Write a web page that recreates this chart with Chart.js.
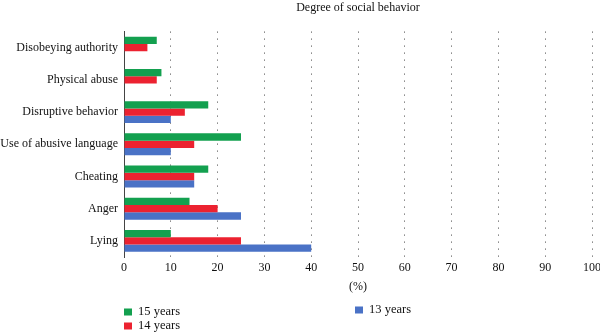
<!DOCTYPE html>
<html>
<head>
<meta charset="utf-8">
<script src="https://cdn.jsdelivr.net/npm/chart.js@4/dist/chart.umd.min.js"></script>
<style>
  html, body { margin: 0; padding: 0; background: #fff; }
  #wrap { width: 600px; height: 334px; }
</style>
</head>
<body>
<div id="wrap"><canvas id="c" width="600" height="334"></canvas></div>
<script>
const categories = ["Disobeying authority", "Physical abuse", "Disruptive behavior", "Use of abusive language", "Cheating", "Anger", "Lying"];
const years15 = [7, 8, 18, 25, 18, 14, 10];
const years14 = [5, 7, 13, 15, 15, 20, 25];
const years13 = [null, null, 10, 10, 15, 25, 40];
const seriesNames = ["15 years", "14 years", "13 years"];
const xTicks = [0, 10, 20, 30, 40, 50, 60, 70, 80, 90, 100];
const chartTitle = "Degree of social behavior";
const xTitle = "(%)";

const FONT = "'Liberation Serif', 'Times New Roman', serif";
const colors = ["#13a04f", "#ec2230", "#4a72c6"];

const titlePlugin = {
  id: 'topTitle',
  afterDraw(chart) {
    const ctx = chart.ctx;
    const a = chart.chartArea;
    ctx.save();
    ctx.font = "12px " + FONT;
    ctx.fillStyle = "#111";
    ctx.textAlign = "center";
    ctx.textBaseline = "middle";
    ctx.fillText(chartTitle, (a.left + a.right) / 2, 8);
    ctx.restore();
  }
};

const legendPlugin = {
  id: 'customLegend',
  afterDraw(chart) {
    const ctx = chart.ctx;
    const pos = [[124, 312], [124, 326], [355, 310]];
    ctx.save();
    ctx.font = "12.5px " + FONT;
    ctx.textBaseline = "middle";
    ctx.textAlign = "left";
    chart.data.datasets.forEach((ds, i) => {
      const [x, y] = pos[i];
      ctx.fillStyle = ds.backgroundColor;
      ctx.fillRect(x, y - 3.5, 8, 7);
      ctx.fillStyle = "#111";
      ctx.fillText(ds.label, x + 14, y);
    });
    ctx.restore();
  }
};

new Chart(document.getElementById('c'), {
  type: 'bar',
  data: {
    labels: categories,
    datasets: [
      { label: seriesNames[0], data: years15, backgroundColor: colors[0] },
      { label: seriesNames[1], data: years14, backgroundColor: colors[1] },
      { label: seriesNames[2], data: years13, backgroundColor: colors[2] }
    ]
  },
  options: {
    indexAxis: 'y',
    responsive: false,
    animation: false,
    devicePixelRatio: 1,
    layout: { padding: { top: 31.6, right: 8, left: 0, bottom: 0 } },
    datasets: { bar: { categoryPercentage: 0.68, barPercentage: 1.0, borderWidth: 0 } },
    plugins: {
      legend: { display: false },
      title: { display: false },
      tooltip: { enabled: false }
    },
    scales: {
      x: {
        min: 0, max: 100,
        afterBuildTicks(scale) { scale.ticks = xTicks.map(v => ({ value: v })); },
        afterFit(scale) { scale.height = 77; scale.paddingRight = 0; scale.paddingLeft = 0; },
        grid: {
          drawTicks: false,
          color: (c) => (c.tick && c.tick.value === 0) ? 'rgba(0,0,0,0)' : '#444',
          lineWidth: 1
        },
        border: { display: false, dash: [1, 6] },
        ticks: { padding: 4, color: "#111", font: { family: FONT, size: 12 } },
        title: { display: true, text: xTitle, color: "#111", font: { family: FONT, size: 12 }, padding: { top: 6, bottom: 40 } }
      },
      y: {
        afterFit(scale) { scale.width = 124; },
        grid: { display: false, drawTicks: false },
        border: { display: true, color: "#444", width: 1 },
        ticks: { padding: 6, color: "#111", font: { family: FONT, size: 12 } }
      }
    }
  },
  plugins: [titlePlugin, legendPlugin]
});
</script>
</body>
</html>
